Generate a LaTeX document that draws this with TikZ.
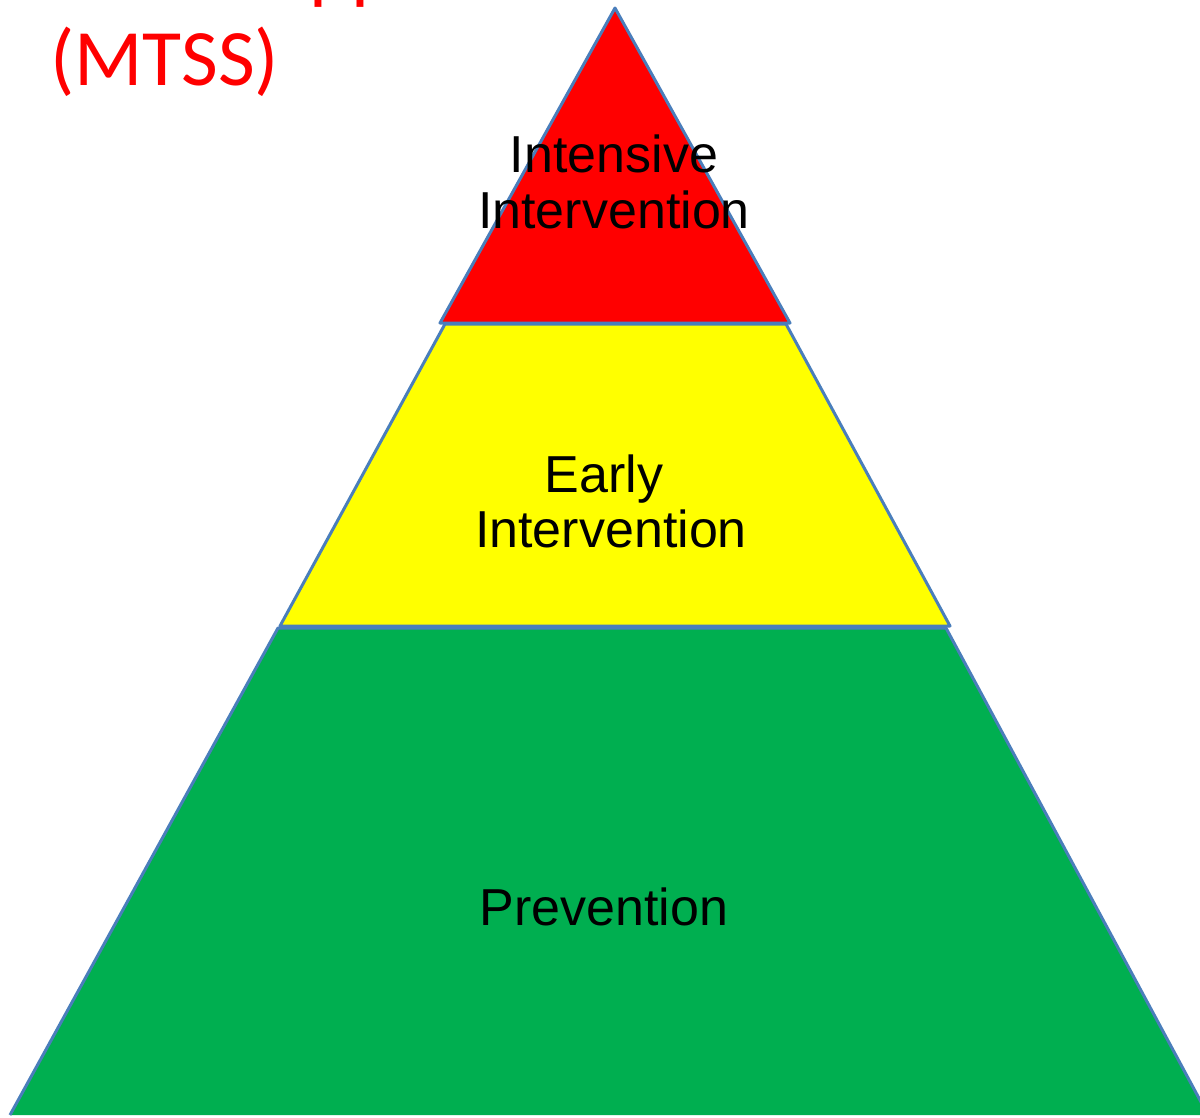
\documentclass[tikz,border=0pt]{standalone}
\usepackage{fontspec}
\newfontfamily\tierfont{Liberation Sans}
\newfontfamily\titlefont{Carlito}
\definecolor{edgeblue}{HTML}{4A7EBB}
\definecolor{tierred}{HTML}{FF0000}
\definecolor{tieryellow}{HTML}{FFFF00}
\definecolor{tiergreen}{HTML}{00AF50}
\definecolor{titlered}{HTML}{FF0000}
\begin{document}
\begin{tikzpicture}[x=1pt,y=-1pt,
  tier/.style={draw=edgeblue,line width=3pt,line join=round},
  tierlabel/.style={font=\tierfont\fontsize{52}{56}\selectfont,text=black,anchor=base,inner sep=0pt},
  titletext/.style={font=\titlefont\fontsize{80}{90}\selectfont,text=titlered,anchor=base west,inner sep=0pt}]
\useasboundingbox (0,0) rectangle (1200,1117);
% tiers
\coordinate (apex) at (615,8);
\coordinate (rl) at (440,323);
\coordinate (rr) at (790,323);
\coordinate (yl) at (445,324);
\coordinate (yr) at (786,324);
\coordinate (ybl) at (280,626);
\coordinate (ybr) at (950,626);
\coordinate (gl) at (278,628);
\coordinate (gr) at (946,628);
\coordinate (gbr) at (1208,1115);
\coordinate (gbl) at (10,1115);
\fill[tiergreen] (gl) -- (gr) -- (gbr) -- (gbl) -- cycle;
\draw[tier] (gbl) -- (gl) -- (gr) -- (gbr);
\fill[tieryellow] (yl) -- (yr) -- (ybr) -- (ybl) -- cycle;
\draw[tier] (yl) -- (yr) -- (ybr) -- (ybl) -- cycle;
\fill[tierred] (apex) -- (rr) -- (rl) -- cycle;
\draw[tier] (apex) -- (rr) -- (rl) -- cycle;
% labels
\node[tierlabel] (int1) at (614,172) {Intensive};
\node[tierlabel] (int2) at (614,228) {Intervention};
\node[tierlabel] (ear1) at (604,492) {Early};
\node[tierlabel] (ear2) at (611,547) {Intervention};
\node[tierlabel] (prev) at (604,925) {Prevention};
% title
\node[titletext] (mtss) at (50,85) {(MTSS)};
\node[titletext,anchor=base east] (supp) at (522,-6) {Supports};
\end{tikzpicture}
\end{document}
